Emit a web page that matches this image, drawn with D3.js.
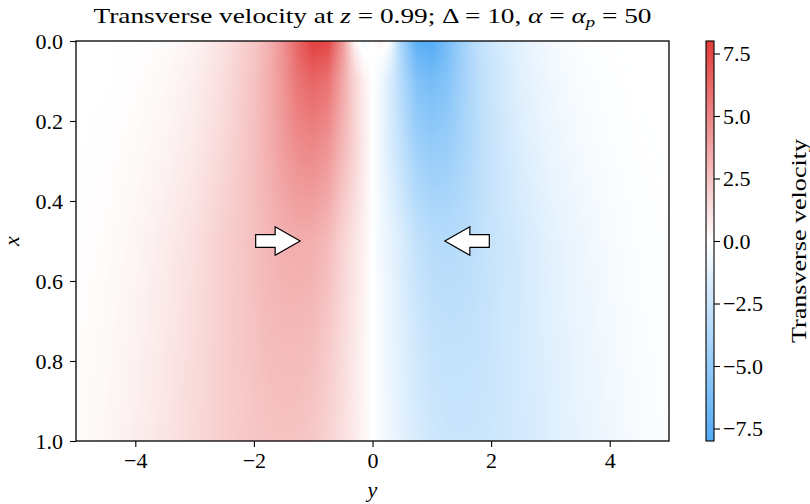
<!DOCTYPE html>
<html>
<head>
<meta charset="utf-8">
<script src="https://cdn.jsdelivr.net/npm/d3@7"></script>
<style>
  body { margin: 0; background: #fff; }
</style>
</head>
<body>
<svg id="chart" width="810" height="504"></svg>
<script>
const WIDTH = 810;
const HEIGHT = 504;

// transverse position y (columns) and streamwise position x (rows) of the sampled field
const yGrid = [-5, -4.5, -4, -3.5, -3, -2.5, -2, -1.75, -1.5, -1.25, -1, -0.75, -0.5, -0.3, -0.15, 0,
  0.15, 0.3, 0.5, 0.75, 1, 1.25, 1.5, 1.75, 2, 2.5, 3, 3.5, 4, 4.5, 5];
const xGrid = [0, 0.03, 0.1, 0.25, 0.5, 0.75, 1.0];

// transverse velocity, one row per x
const velX000 = [0, 0, 0.05, 0.15, 0.5, 1.2, 2.3, 3.2, 4.5, 6.3, 7.9, 7.6, 4.2, 0.3, -0.6, 0,
  0.6, -0.3, -4.2, -7.6, -7.9, -6.3, -4.5, -3.2, -2.3, -1.2, -0.5, -0.15, -0.05, 0, 0];
const velX003 = [0, 0, 0.05, 0.2, 0.6, 1.3, 2.4, 3.2, 4.5, 6.2, 7.4, 7.0, 4.0, 1.0, 0.0, 0,
  0.0, -1.0, -4.0, -7.0, -7.4, -6.2, -4.5, -3.2, -2.4, -1.3, -0.6, -0.2, -0.05, 0, 0];
const velX010 = [0, 0, 0.1, 0.3, 0.7, 1.4, 2.5, 3.3, 4.4, 5.7, 6.3, 5.8, 3.6, 1.8, 0.7, 0,
  -0.7, -1.8, -3.6, -5.8, -6.3, -5.7, -4.4, -3.3, -2.5, -1.4, -0.7, -0.3, -0.1, 0, 0];
const velX025 = [0, 0.05, 0.2, 0.45, 0.9, 1.6, 2.6, 3.3, 4.1, 4.8, 5.0, 4.5, 3.0, 1.8, 0.9, 0,
  -0.9, -1.8, -3.0, -4.5, -5.0, -4.8, -4.1, -3.3, -2.6, -1.6, -0.9, -0.45, -0.2, -0.05, 0];
const velX050 = [0.05, 0.15, 0.4, 0.8, 1.3, 2.0, 2.6, 3.0, 3.3, 3.4, 3.3, 2.8, 1.8, 1.1, 0.6, 0,
  -0.6, -1.1, -1.8, -2.8, -3.3, -3.4, -3.3, -3.0, -2.6, -2.0, -1.3, -0.8, -0.4, -0.15, -0.05];
const velX075 = [0.1, 0.25, 0.55, 0.95, 1.45, 2.0, 2.5, 2.75, 2.85, 2.85, 2.7, 2.2, 1.5, 0.95, 0.45, 0,
  -0.45, -0.95, -1.5, -2.2, -2.7, -2.85, -2.85, -2.75, -2.5, -2.0, -1.45, -0.95, -0.55, -0.25, -0.1];
const velX100 = [0.15, 0.35, 0.7, 1.1, 1.55, 2.0, 2.35, 2.45, 2.5, 2.45, 2.25, 1.85, 1.3, 0.8, 0.4, 0,
  -0.4, -0.8, -1.3, -1.85, -2.25, -2.45, -2.5, -2.45, -2.35, -2.0, -1.55, -1.1, -0.7, -0.35, -0.15];
const velRows = [velX000, velX003, velX010, velX025, velX050, velX075, velX100];

const yTicks = [-4, -2, 0, 2, 4];
const xTicks = [0, 0.2, 0.4, 0.6, 0.8, 1.0];
const cbarTicks = [-7.5, -5, -2.5, 0, 2.5, 5, 7.5];

// arrows: position x, tail y, tip y
const arrowX = [0.5, 0.5];
const arrowFrom = [-1.97, 1.97];
const arrowTo = [-1.22, 1.22];

const VMIN = -8, VMAX = 8;
const BLUE = "#52abf5";
const RED = "#e23c3c";

const FONT = "Liberation Serif";
const FS = 22;

const pL = 76, pR = 669, pT = 41, pB = 441;
const plotW = pR - pL, plotH = pB - pT;

const yScale = d3.scaleLinear().domain([-5, 5]).range([pL, pR]);
const xScale = d3.scaleLinear().domain([0, 1]).range([pT, pB]);
const colorScale = d3.scaleLinear().domain([VMIN, 0, VMAX]).range([BLUE, "#ffffff", RED]).clamp(true);

const colIndex = d3.scaleLinear().domain(yGrid).range(d3.range(yGrid.length)).clamp(true);
const rowIndex = d3.scaleLinear().domain(xGrid).range(d3.range(xGrid.length)).clamp(true);

const minus = (s) => s.replace("-", "\u2212");

const svg = d3.select("#chart").attr("font-family", FONT);

// heatmap image
const LUT_N = 1024;
const lut = d3.range(LUT_N).map((i) => d3.rgb(colorScale(VMIN + (VMAX - VMIN) * i / (LUT_N - 1))));
const canvas = document.createElement("canvas");
canvas.width = plotW;
canvas.height = plotH;
const ctx = canvas.getContext("2d");
const img = ctx.createImageData(plotW, plotH);
const cols = d3.range(plotW).map((i) => {
  const f = colIndex(yScale.invert(pL + i + 0.5));
  const i0 = Math.min(Math.floor(f), yGrid.length - 2);
  return [i0, f - i0];
});
for (let j = 0; j < plotH; j++) {
  const g = rowIndex(xScale.invert(pT + j + 0.5));
  const r0 = Math.min(Math.floor(g), xGrid.length - 2);
  const s = g - r0;
  const ra = velRows[r0], rb = velRows[r0 + 1];
  for (let i = 0; i < plotW; i++) {
    const [c0, t] = cols[i];
    const a = ra[c0] * (1 - t) + ra[c0 + 1] * t;
    const b = rb[c0] * (1 - t) + rb[c0 + 1] * t;
    const v = a * (1 - s) + b * s;
    let k = Math.round((v - VMIN) / (VMAX - VMIN) * (LUT_N - 1));
    k = Math.max(0, Math.min(LUT_N - 1, k));
    const c = lut[k];
    const p = (j * plotW + i) * 4;
    img.data[p] = c.r; img.data[p + 1] = c.g; img.data[p + 2] = c.b; img.data[p + 3] = 255;
  }
}
ctx.putImageData(img, 0, 0);
svg.append("image")
  .attr("x", pL).attr("y", pT)
  .attr("width", plotW).attr("height", plotH)
  .attr("preserveAspectRatio", "none")
  .attr("href", canvas.toDataURL());

// arrows
const arrowData = arrowX.map((x, i) => ({ x, from: arrowFrom[i], to: arrowTo[i] }));
svg.append("g").selectAll("path").data(arrowData).join("path")
  .attr("d", (d) => {
    const cy = xScale(d.x), tail = yScale(d.from), tip = yScale(d.to);
    const dir = Math.sign(tip - tail);
    const base = tip - dir * 25;
    const sw = 6.3, hw = 14.3;
    return `M${tail},${cy - sw}L${base},${cy - sw}L${base},${cy - hw}L${tip},${cy}` +
      `L${base},${cy + hw}L${base},${cy + sw}L${tail},${cy + sw}Z`;
  })
  .attr("fill", "#fff").attr("stroke", "#000").attr("stroke-width", 1.2)
  .attr("stroke-linejoin", "miter");

// axes
const styleAxis = (g) => {
  g.attr("font-family", FONT).attr("font-size", FS);
  g.select(".domain").remove();
  g.selectAll(".tick line").attr("stroke", "#000").attr("stroke-width", 1.1);
  g.selectAll(".tick text").attr("fill", "#000").attr("font-family", FONT).attr("font-size", FS);
};

svg.append("g")
  .attr("transform", `translate(0,${pB})`)
  .call(d3.axisBottom(yScale).tickValues(yTicks).tickSize(6).tickPadding(5)
    .tickFormat((d) => minus(d3.format("d")(d))))
  .call(styleAxis);

svg.append("g")
  .attr("transform", `translate(${pL},0)`)
  .call(d3.axisLeft(xScale).tickValues(xTicks).tickSize(6).tickPadding(7)
    .tickFormat(d3.format(".1f")))
  .call(styleAxis);

svg.append("rect")
  .attr("x", pL).attr("y", pT).attr("width", plotW).attr("height", plotH)
  .attr("fill", "none").attr("stroke", "#000").attr("stroke-width", 1.3);

// colorbar
const cbX = 706, cbW = 8;
const cbScale = d3.scaleLinear().domain([VMIN, VMAX]).range([pB, pT]);
const grad = svg.append("defs").append("linearGradient")
  .attr("id", "cbgrad").attr("x1", 0).attr("y1", 1).attr("x2", 0).attr("y2", 0);
grad.selectAll("stop").data(d3.range(0, 1.0001, 0.05)).join("stop")
  .attr("offset", (d) => d)
  .attr("stop-color", (d) => colorScale(VMIN + d * (VMAX - VMIN)));
svg.append("rect")
  .attr("x", cbX).attr("y", pT).attr("width", cbW).attr("height", plotH)
  .attr("fill", "url(#cbgrad)").attr("stroke", "#000").attr("stroke-width", 1.1);

svg.append("g")
  .attr("transform", `translate(${cbX + cbW},0)`)
  .call(d3.axisRight(cbScale).tickValues(cbarTicks).tickSize(6).tickPadding(3)
    .tickFormat((d) => minus(d3.format(".1f")(d))))
  .call(styleAxis);

// labels
svg.append("text")
  .attr("transform", `translate(806,${(pT + pB) / 2}) rotate(-90)`)
  .attr("text-anchor", "middle")
  .attr("font-family", FONT).attr("font-size", FS)
  .attr("textLength", 204).attr("lengthAdjust", "spacingAndGlyphs")
  .text("Transverse velocity");

svg.append("text")
  .attr("x", (pL + pR) / 2).attr("y", 497)
  .attr("text-anchor", "middle")
  .attr("font-family", FONT).attr("font-size", FS).attr("font-style", "italic")
  .text("y");

svg.append("text")
  .attr("transform", `translate(19,${(pT + pB) / 2}) rotate(-90)`)
  .attr("text-anchor", "middle")
  .attr("font-family", FONT).attr("font-size", FS).attr("font-style", "italic")
  .text("x");

const title = svg.append("text")
  .attr("x", (pL + pR) / 2).attr("y", 23)
  .attr("text-anchor", "middle")
  .attr("font-family", FONT).attr("font-size", FS)
  .attr("textLength", 558).attr("lengthAdjust", "spacingAndGlyphs");
title.append("tspan").text("Transverse velocity at ");
title.append("tspan").attr("font-style", "italic").text("z");
title.append("tspan").text(" = 0.99; \u0394 = 10, ");
title.append("tspan").attr("font-style", "italic").text("\u03b1");
title.append("tspan").text(" = ");
title.append("tspan").attr("font-style", "italic").text("\u03b1");
title.append("tspan").attr("font-style", "italic").attr("font-size", 15).attr("dy", 4).text("p");
title.append("tspan").attr("dy", -4).text(" = 50");
</script>
</body>
</html>
